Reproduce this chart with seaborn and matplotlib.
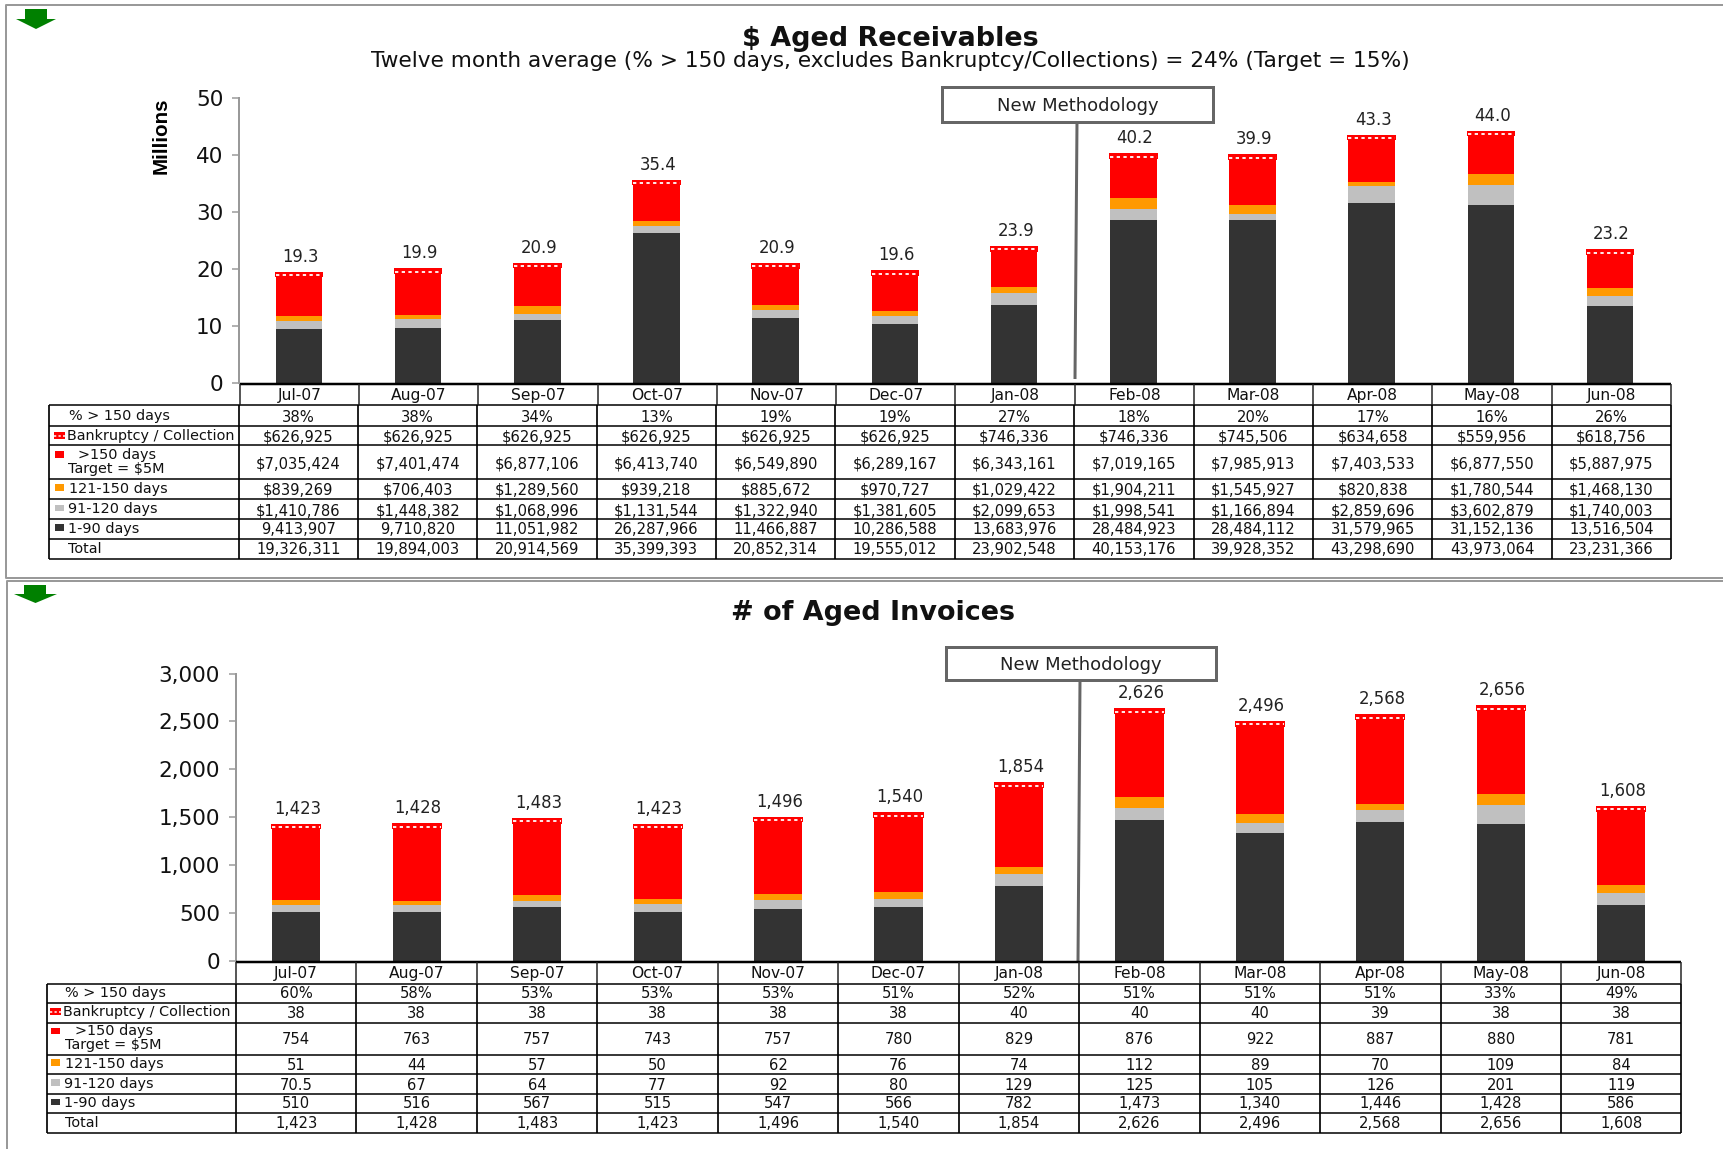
import numpy as np
import pandas as pd
import matplotlib
matplotlib.use("Agg")
import matplotlib.pyplot as plt
from matplotlib.patches import Rectangle, Polygon
import seaborn as sns

months = ["Jul-07", "Aug-07", "Sep-07", "Oct-07", "Nov-07", "Dec-07",
          "Jan-08", "Feb-08", "Mar-08", "Apr-08", "May-08", "Jun-08"]

# Aged receivables, dollars
usd_1_90 = [9413907, 9710820, 11051982, 26287966, 11466887, 10286588,
            13683976, 28484923, 28484112, 31579965, 31152136, 13516504]
usd_91_120 = [1410786, 1448382, 1068996, 1131544, 1322940, 1381605,
              2099653, 1998541, 1166894, 2859696, 3602879, 1740003]
usd_121_150 = [839269, 706403, 1289560, 939218, 885672, 970727,
               1029422, 1904211, 1545927, 820838, 1780544, 1468130]
usd_150 = [7035424, 7401474, 6877106, 6413740, 6549890, 6289167,
           6343161, 7019165, 7985913, 7403533, 6877550, 5887975]
usd_bankr = [626925, 626925, 626925, 626925, 626925, 626925,
             746336, 746336, 745506, 634658, 559956, 618756]
usd_total = [19326311, 19894003, 20914569, 35399393, 20852314, 19555012,
             23902548, 40153176, 39928352, 43298690, 43973064, 23231366]
usd_pct = ["38%", "38%", "34%", "13%", "19%", "19%", "27%", "18%", "20%", "17%", "16%", "26%"]
usd_labels = ["19.3", "19.9", "20.9", "35.4", "20.9", "19.6", "23.9", "40.2", "39.9", "43.3", "44.0", "23.2"]

# Aged invoices, counts
inv_1_90 = [510, 516, 567, 515, 547, 566, 782, 1473, 1340, 1446, 1428, 586]
inv_91_120 = [70.5, 67, 64, 77, 92, 80, 129, 125, 105, 126, 201, 119]
inv_121_150 = [51, 44, 57, 50, 62, 76, 74, 112, 89, 70, 109, 84]
inv_150 = [754, 763, 757, 743, 757, 780, 829, 876, 922, 887, 880, 781]
inv_bankr = [38, 38, 38, 38, 38, 38, 40, 40, 40, 39, 38, 38]
inv_total = [1423, 1428, 1483, 1423, 1496, 1540, 1854, 2626, 2496, 2568, 2656, 1608]
inv_pct = ["60%", "58%", "53%", "53%", "53%", "51%", "52%", "51%", "51%", "51%", "33%", "49%"]

COLORS = ["#333333", "#C0C0C0", "#FF9900", "#FF0000", "#FF0000"]
W, H = 1724, 1149
FONT = ["DejaVu Sans"]
TBL = 14.8
LAB = 14.4


def pt(px):
    return px * 0.72


def money(vals):
    return [f"${v:,.0f}" for v in vals]


def plain(vals):
    return [f"{v:,.0f}" if v != 70.5 else "70.5" for v in vals]


def draw_bars(ax, stacks, labels, ymax, ticks, fmt, bar_w):
    bottom = np.zeros(12)
    for n, (vals, col) in enumerate(zip(stacks, COLORS)):
        # top block gets a red rim, it reads thicker in the original
        rim = pt(2) if n == 4 else 0
        sns.barplot(x=months, y=vals, order=months, bottom=bottom, color=col, edgecolor=col,
                    linewidth=rim, width=bar_w, saturation=1, errorbar=None, ax=ax)
        bottom = bottom + np.array(vals)
    # white dotted line through the thin bankruptcy block
    block = np.array(stacks[-1])
    pos = np.arange(12)
    ax.hlines(bottom - block * 0.7, pos - bar_w / 2, pos + bar_w / 2, colors="white", linewidth=pt(1.8),
              linestyles=(0, (3.3 / 1.8, 3.4 / 1.8)), zorder=5)
    for i, txt in enumerate(labels):
        ax.annotate(txt, (i, bottom[i]), xytext=(pt(1.5), pt(16)), textcoords="offset points",
                    ha="center", va="center", fontsize=pt(16.5), color="#222222", family=FONT)
    ax.set_xlim(-0.5, 11.5)
    ax.set_ylim(0, ymax)
    ax.set_yticks(ticks)
    ax.set_yticklabels([fmt(t) for t in ticks], fontsize=pt(21.5), color="#111111", family=FONT)
    ax.set_xticks([])
    ax.set_xlabel("")
    ax.set_ylabel("")
    ax.tick_params(axis="y", length=pt(7), width=pt(1.5), color="#999999", pad=pt(9), left=True)
    sns.despine(ax=ax, bottom=True)
    ax.spines["left"].set_color("#999999")
    ax.spines["left"].set_linewidth(pt(2))
    ax.patch.set_alpha(0)


def draw_table(cv, hx, bx, rows_y, hdr_y, val_y, lab, rows):
    cv.plot([hx[0], hx[-1]], [hdr_y, hdr_y], color="black", lw=pt(2.5), solid_capstyle="butt")
    for x in hx:
        cv.plot([x, x], [rows_y[0], hdr_y], color="#222222", lw=pt(1.5), solid_capstyle="butt")
    for i, m in enumerate(months):
        cv.text((hx[i] + hx[i + 1]) / 2, (rows_y[0] + hdr_y) / 2 + 1, m, ha="center", va="center",
                fontsize=pt(15.5), color="#111111", family=FONT)
    for y in rows_y:
        cv.plot([lab["left"], bx[-1]], [y, y], color="#1a1a1a", lw=pt(1.7), solid_capstyle="butt")
    for x in [lab["left"]] + list(bx):
        cv.plot([x, x], [rows_y[0], rows_y[-1]], color="black", lw=pt(1.7), solid_capstyle="butt")
    for y, row in zip(val_y, rows):
        for i, s in enumerate(row):
            cv.text((bx[i] + bx[i + 1]) / 2, y, s, ha="center", va="center",
                    fontsize=pt(TBL), color="#111111", family=FONT)
    for x, y, s in lab["texts"]:
        cv.text(x, y, s, ha="left", va="center", fontsize=pt(LAB), color="#111111", family=FONT)
    for (x0, y0, x1, y1), col in lab["swatches"]:
        cv.add_patch(Rectangle((x0, y0), x1 - x0, y1 - y0, color=col, lw=0))
    x0, y0, x1, y1 = lab["bankr"]
    cv.add_patch(Rectangle((x0, y0), x1 - x0, y1 - y0, color="#FF0000", lw=0))
    cv.plot([x0, x1], [(y0 + y1) / 2] * 2, color="white", lw=pt(1.5), ls=(0, (1.5, 1.5)))


def callout(cv, x0, y0, x1, y1, lx0, lx1, ly):
    cv.plot([lx0, lx1], [y1, ly], color="#666666", lw=pt(3), solid_capstyle="butt")
    cv.add_patch(Rectangle((x0, y0), x1 - x0, y1 - y0, fc="white", ec="#666666", lw=pt(3)))
    cv.text((x0 + x1) / 2, (y0 + y1) / 2 + 2, "New Methodology", ha="center", va="center",
            fontsize=pt(18), color="#222222", family=FONT)


def arrow(cv, xs, ys):
    x0, sx0, sx1, x1 = xs
    y0, y1, y2 = ys
    cv.add_patch(Polygon([(sx0, y0), (sx1, y0), (sx1, y1), (x1, y1), ((x0 + x1) / 2, y2),
                          (x0, y1), (sx0, y1)], closed=True, color="#008000", lw=0))


sns.set_theme(style="white")
plt.rcParams["font.family"] = FONT

fig = plt.figure(figsize=(W / 100, H / 100), dpi=100, facecolor="white")

# pixel canvas for frames, titles and table grids
cv = fig.add_axes([0, 0, 1, 1], zorder=3)
cv.set_xlim(0, W)
cv.set_ylim(H, 0)
cv.axis("off")

ax1 = fig.add_axes([239.4 / W, 1 - 383 / H, (1669.6 - 239.4) / W, 285.5 / H], zorder=2)
ax2 = fig.add_axes([236 / W, 1 - 961 / H, (1681.5 - 236) / W, 287.5 / H], zorder=2)

draw_bars(ax1, [np.array(v) / 1e6 for v in (usd_1_90, usd_91_120, usd_121_150, usd_150, usd_bankr)],
          usd_labels, 50, [0, 10, 20, 30, 40, 50], lambda t: f"{t}", 0.39)
draw_bars(ax2, [inv_1_90, inv_91_120, inv_121_150, inv_150, inv_bankr],
          plain(inv_total), 3000, [0, 500, 1000, 1500, 2000, 2500, 3000], lambda t: f"{t:,}", 0.40)

# panel frames
cv.plot([W, 6, 6, W], [5, 5, 578, 578], color="#999999", lw=pt(2))
cv.plot([W, 7, 7], [580.5, 580.5, H], color="#999999", lw=pt(2))
arrow(cv, (16, 25, 47, 56), (9, 19, 29))
arrow(cv, (14, 24, 46, 57), (585, 594, 603))

# titles
cv.text(890.5, 38.5, "$ Aged Receivables", ha="center", va="center", fontsize=pt(27), fontweight="bold",
        color="#111111", family=FONT)
cv.text(890, 61, "Twelve month average (% > 150 days, excludes Bankruptcy/Collections) = 24% (Target = 15%)",
        ha="center", va="center", fontsize=pt(21.7), color="#111111", family=FONT)
cv.text(873, 613.5, "# of Aged Invoices", ha="center", va="center", fontsize=pt(27), fontweight="bold",
        color="#111111", family=FONT)
cv.text(161, 136, "Millions", rotation=90, ha="center", va="center", fontsize=pt(20.5), fontweight="bold",
        color="black", family=["Liberation Sans"])

callout(cv, 942.5, 87, 1213.5, 121.5, 1077, 1075, 379)
callout(cv, 946, 647, 1216, 680, 1080, 1078, 962)

lab1 = {
    "left": 49,
    "texts": [(69, 416, "% > 150 days"), (67, 436, "Bankruptcy / Collection"), (78, 455, ">150 days"),
              (68.5, 469, "Target = $5M"), (69, 489, "121-150 days"), (68, 509, "91-120 days"),
              (68, 529, "1-90 days"), (68, 549, "Total")],
    "swatches": [((55, 451, 64, 458), "#FF0000"), ((55, 484, 64, 491), "#FF9900"),
                 ((55, 505, 64, 511), "#C0C0C0"), ((55, 524, 64, 531), "#333333")],
    "bankr": (54, 432, 65, 439),
}
rows1 = [usd_pct, money(usd_bankr), money(usd_150), money(usd_121_150), money(usd_91_120),
         plain(usd_1_90), plain(usd_total)]
draw_table(cv, np.linspace(240, 1671, 13), np.linspace(238.6, 1671, 13),
           [405, 425.7, 445, 478.7, 499, 518.7, 539, 558.7], 384,
           [417, 437, 464, 490, 511, 530, 550], lab1, rows1)

lab2 = {
    "left": 47,
    "texts": [(65, 993, "% > 150 days"), (63, 1012, "Bankruptcy / Collection"), (75, 1031, ">150 days"),
              (65, 1045, "Target = $5M"), (65, 1064, "121-150 days"), (64, 1084, "91-120 days"),
              (64.5, 1103, "1-90 days"), (65, 1123, "Total")],
    "swatches": [((51, 1028, 60, 1034), "#FF0000"), ((51, 1059, 60, 1066), "#FF9900"),
                 ((51, 1079, 60, 1086), "#C0C0C0"), ((51, 1099, 60, 1105), "#333333")],
    "bankr": (50, 1008, 61, 1015),
}
rows2 = [inv_pct, plain(inv_bankr), plain(inv_150), plain(inv_121_150), plain(inv_91_120),
         plain(inv_1_90), plain(inv_total)]
draw_table(cv, np.linspace(236, 1681.5, 13), np.linspace(236, 1681.5, 13),
           [983.7, 1002.7, 1022.7, 1055, 1074, 1094, 1113, 1133], 962,
           [994, 1014, 1039, 1065, 1085, 1104, 1124], lab2, rows2)

fig.savefig("out.png", dpi=100)
